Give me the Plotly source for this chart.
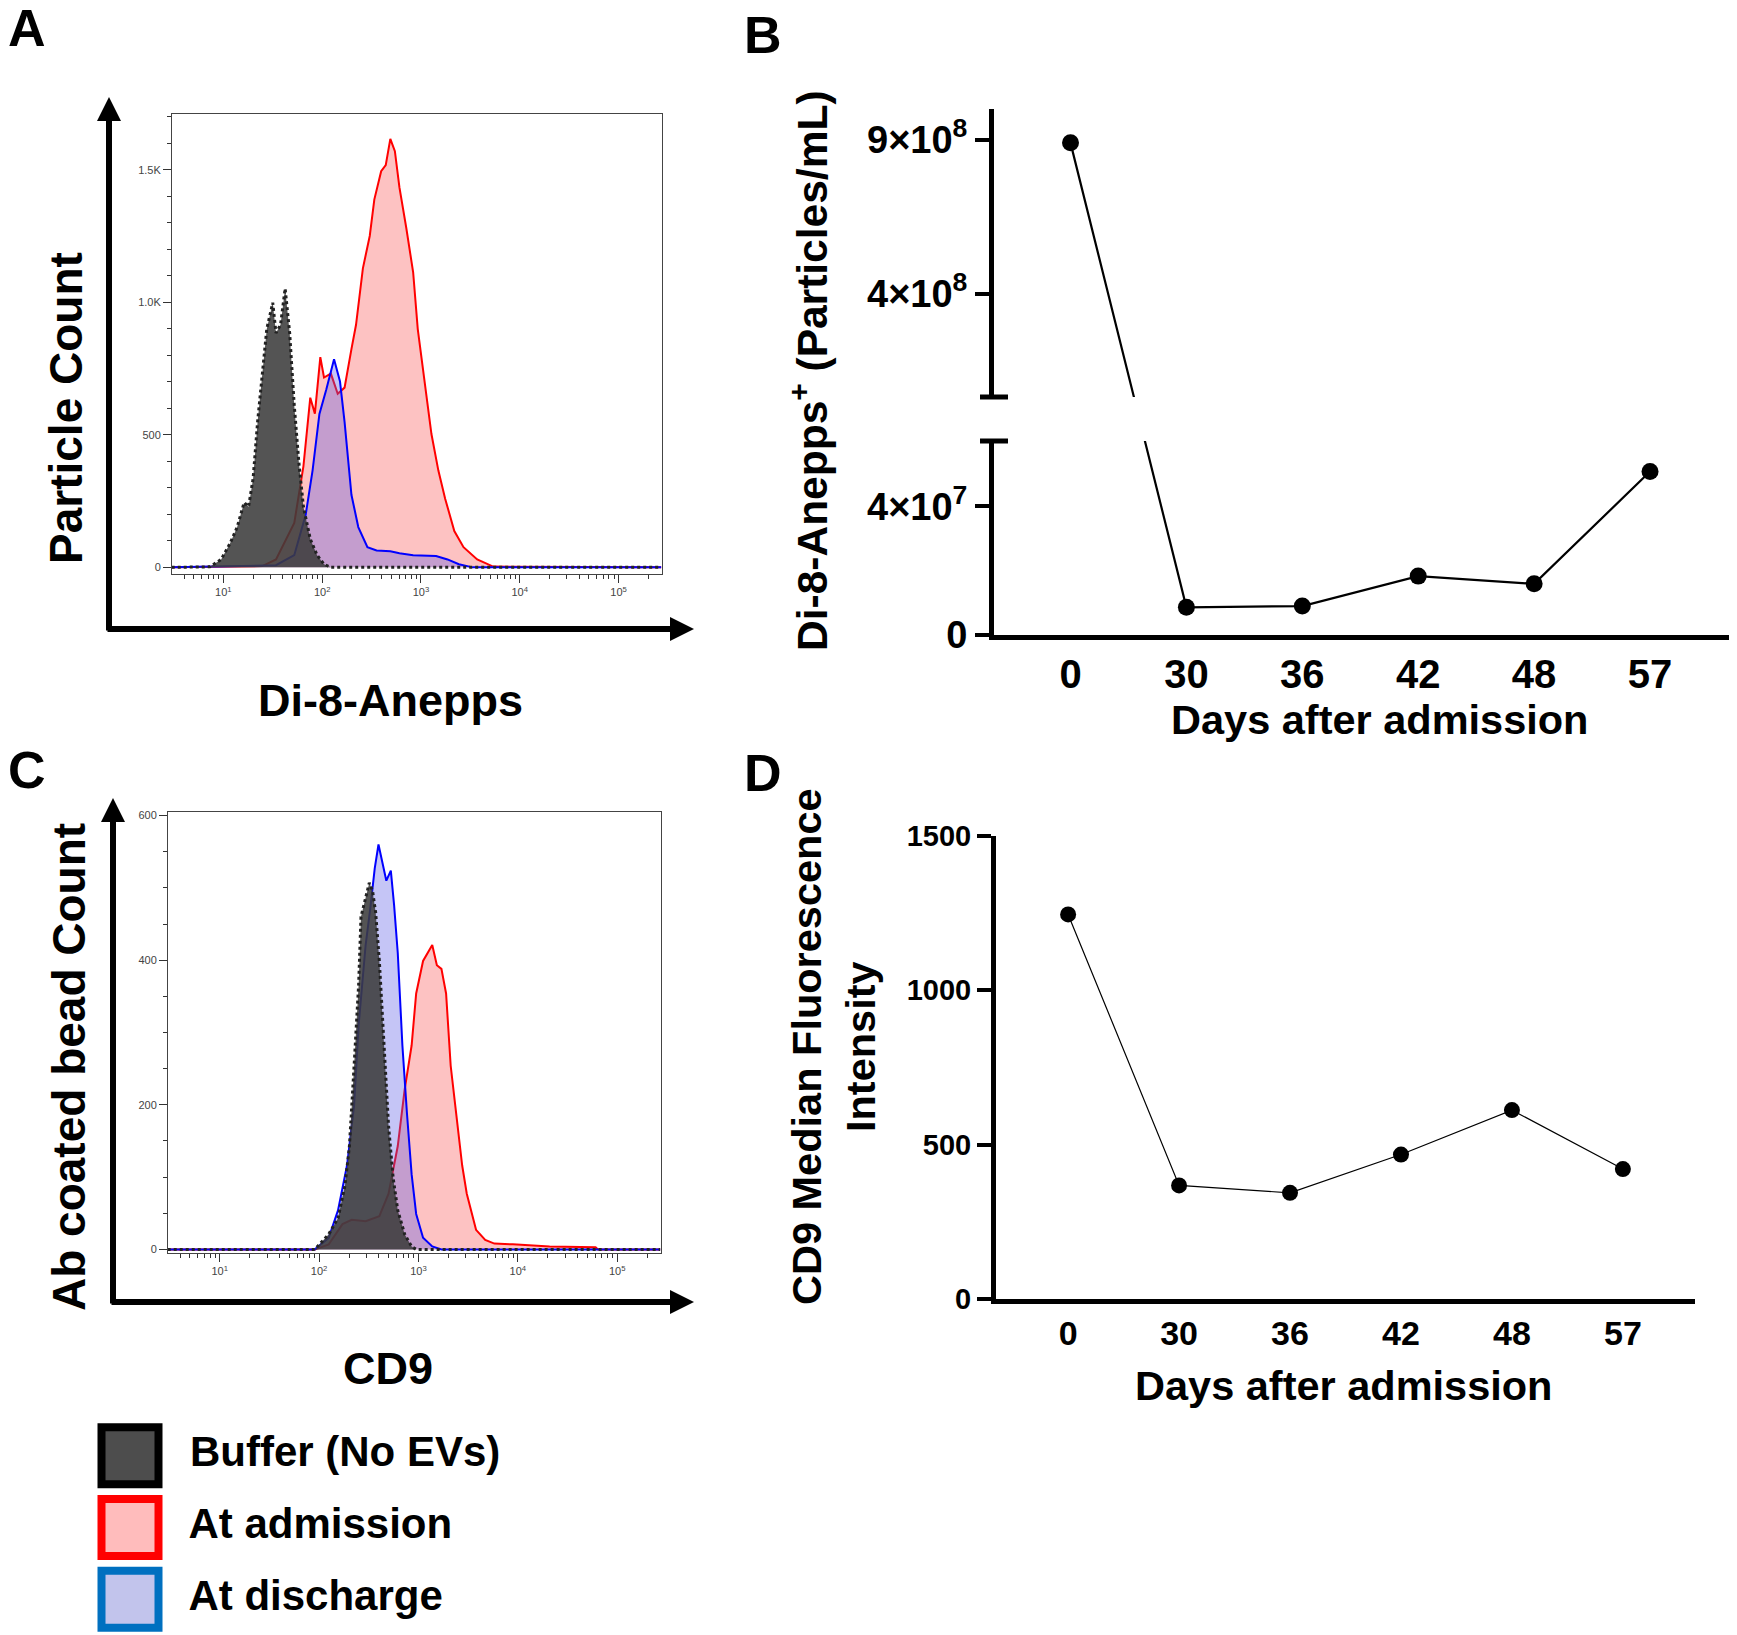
import plotly.graph_objects as go

W, H = 1737, 1635
OFF = 8  # page body margin offset compensation (px)

# ---------------- data ----------------
# Panel A: Di-8-Anepps histograms (fluorescence, particle count)
a_buffer_x = [3, 7.3, 9.5, 11.7, 13.8, 16.2, 18.0, 20.0, 22.2, 24.8, 27.5, 31.6, 34.1, 37.9, 42.2, 46.9,
              52.2, 58.1, 64.6, 75.8, 88.9, 104.4, 122.5, 270000]
a_buffer_y = [0, 2, 30, 91, 152, 244, 229, 335, 549, 732, 899, 998, 884, 915, 1052, 884,
              610, 396, 229, 107, 46, 12, 0, 0]
a_adm_x = [3, 24.8, 34.1, 52.2, 64.6, 75.8, 84.4, 95.8, 104.4, 122.5, 143.7, 168.6, 197.8, 220.2, 258.4,
           303.1, 337.2, 395.6, 440.2, 489.8, 544.6, 605.6, 710.6, 833.7, 928.4, 1089, 1277, 1499, 1758,
           2176, 2697, 3709, 5383, 270000]
a_adm_y = [0, 5, 30, 168, 381, 640, 580, 793, 716, 731, 655, 678, 823, 915, 1128,
           1250, 1387, 1494, 1517, 1616, 1570, 1433, 1280, 1113, 899, 701, 503, 366, 259,
           137, 76, 30, 3, 0]
a_dis_x = [3, 34.1, 52.2, 68.1, 80.0, 93.8, 110.1, 131.9, 151.6, 168.6, 197.8, 232.1, 287.2, 355.5,
           489.8, 605.6, 833.7, 1422, 1857, 2421, 3334, 270000]
a_dis_y = [0, 8, 46, 198, 366, 579, 671, 785, 701, 549, 274, 152, 76, 64,
           61, 53, 46, 43, 30, 12, 0, 0]

# Panel C: CD9 histograms (fluorescence, bead count)
c_buffer_x = [3, 90.8, 125, 155, 182, 202, 225, 250, 264, 294, 320, 345, 371, 404, 449, 500, 556, 619,
              726, 853, 948, 270000]
c_buffer_y = [0, 0, 21, 43, 88, 143, 254, 366, 460, 488, 507, 496, 466, 399, 282, 171, 99, 54,
              21, 4, 0, 0]
c_adm_x = [3, 90.8, 125, 172, 213, 294, 404, 500, 619, 726, 853, 948, 1112, 1239, 1376, 1531, 1702,
           1896, 2109, 2345, 2753, 3062, 3795, 4693, 5804, 8892, 20850, 60530, 63970, 270000]
c_adm_y = [0, 0, 7, 35, 41, 39, 46, 77, 143, 221, 282, 354, 399, 410, 421, 393, 388,
           354, 254, 199, 116, 77, 27, 13, 8, 7, 4, 3, 0, 0]
c_dis_x = [3, 90.8, 125, 155, 191, 225, 250, 294, 327, 363, 396, 426, 475, 527, 568, 619, 689, 766,
           853, 948, 1112, 1376, 1702, 270000]
c_dis_y = [0, 0, 16, 54, 116, 199, 310, 421, 471, 527, 560, 538, 510, 524, 477, 410, 282, 188,
           104, 49, 16, 4, 0, 0]

# Panels B and D
days = ["0", "30", "36", "42", "48", "57"]
b_particles = [8.9e8, 8.6e6, 9.0e6, 1.83e7, 1.59e7, 5.08e7]
d_mfi = [1246, 368, 344, 468, 612, 421]

log_ticks = [10, 100, 1000, 10000, 100000]
log_ticktext = ["10<sup>1</sup>", "10<sup>2</sup>", "10<sup>3</sup>", "10<sup>4</sup>", "10<sup>5</sup>"]
a_yticks = [0, 500, 1000, 1500]
a_yticktext = ["0", "500", "1.0K", "1.5K"]
c_yticks = [0, 200, 400, 600]
b_low_ticks = [0, 4e7]
b_low_text = ["0", "4×10<sup>7</sup>"]
b_up_ticks = [4e8, 9e8]
b_up_text = ["4×10<sup>8</sup>", "9×10<sup>8</sup>"]
d_yticks = [0, 500, 1000, 1500]

legend_labels = ["Buffer (No EVs)", "At admission", "At discharge"]
legend_fill = ["#4d4d4d", "#ffbcbc", "#c2c4ec"]
legend_edge = ["#000000", "#ff0000", "#0070c0"]

# ---------------- helpers (layout geometry) ----------------
def xd(p0, p1):
    return [(p0 - OFF) / W, (p1 - OFF) / W]

def yd(top, bot):
    return [1 - (bot - OFF) / H, 1 - (top - OFF) / H]

FONT = "Liberation Sans, Arial, sans-serif"

# broken axis for panel B
B_LOW = yd(441, 635)
B_UP = yd(109, 397)
LOW_MAX = 6.03e7
UP_MIN, UP_MAX = 6.43e7, 1.0e9
h_low = B_LOW[1] - B_LOW[0]
D_lo = LOW_MAX * (B_UP[0] - B_LOW[0]) / h_low
D_hi = LOW_MAX * (B_UP[1] - B_LOW[0]) / h_low

def to_display(v):
    if v <= LOW_MAX:
        return v
    return D_lo + (v - UP_MIN) * (D_hi - D_lo) / (UP_MAX - UP_MIN)

b_disp = [to_display(v) for v in b_particles]

fig = go.Figure()

RED_FILL = "rgba(250,120,120,0.45)"
BLUE_FILL = "rgba(90,90,230,0.35)"
GRAY_FILL = "rgba(60,60,60,0.88)"

def hist_traces(xa, ya, xs_adm, ys_adm, xs_dis, ys_dis, xs_buf, ys_buf):
    fig.add_trace(go.Scatter(x=xs_adm, y=ys_adm, mode="lines", fill="tozeroy", fillcolor=RED_FILL,
                             line=dict(color="#ff0000", width=2), xaxis=xa, yaxis=ya, showlegend=False))
    fig.add_trace(go.Scatter(x=xs_dis, y=ys_dis, mode="lines", fill="tozeroy", fillcolor=BLUE_FILL,
                             line=dict(color="#0000ff", width=2), xaxis=xa, yaxis=ya, showlegend=False))
    fig.add_trace(go.Scatter(x=xs_buf, y=ys_buf, mode="lines", fill="tozeroy", fillcolor=GRAY_FILL,
                             line=dict(color="#222222", width=3, dash="dot"), xaxis=xa, yaxis=ya,
                             showlegend=False))

hist_traces("x", "y", a_adm_x, a_adm_y, a_dis_x, a_dis_y, a_buffer_x, a_buffer_y)
hist_traces("x2", "y2", c_adm_x, c_adm_y, c_dis_x, c_dis_y, c_buffer_x, c_buffer_y)

# Panel B (lower and upper segments)
for xa, ya in (("x3", "y3"), ("x4", "y4")):
    fig.add_trace(go.Scatter(x=days, y=b_disp, mode="lines+markers",
                             line=dict(color="black", width=2.2),
                             marker=dict(color="black", size=17),
                             xaxis=xa, yaxis=ya, showlegend=False))

# Panel D
fig.add_trace(go.Scatter(x=days, y=d_mfi, mode="lines+markers",
                         line=dict(color="black", width=1.2),
                         marker=dict(color="black", size=16),
                         xaxis="x5", yaxis="y5", showlegend=False))

# Legend panel
fig.add_trace(go.Scatter(x=[0] * len(legend_labels), y=legend_labels, mode="markers+text",
                         text=["  " + t for t in legend_labels], textposition="middle right",
                         textfont=dict(family=FONT, size=42, color="black", weight="bold"),
                         marker=dict(symbol="square", size=57, color=legend_fill,
                                     line=dict(color=legend_edge, width=8)),
                         xaxis="x6", yaxis="y6", showlegend=False, cliponaxis=False))

minor_log = [m * 10 ** e for e in range(0, 6) for m in range(2, 10)]

def hist_xaxis(domain, anchor):
    return dict(domain=domain, anchor=anchor, type="log", range=[0.48, 5.44],
                showline=True, mirror=True, linecolor="#444", linewidth=1,
                ticks="outside", ticklen=8, tickwidth=1, tickcolor="#333",
                tickmode="array", tickvals=log_ticks, ticktext=log_ticktext,
                tickfont=dict(family=FONT, size=11, color="#444"),
                minor=dict(ticks="outside", ticklen=4, tickwidth=1, tickcolor="#333",
                           tickmode="array", tickvals=minor_log, showgrid=False),
                showgrid=False, zeroline=False, automargin=False)

def hist_yaxis(domain, anchor, rng, tv, tt, minor_dt):
    return dict(domain=domain, anchor=anchor, range=rng,
                showline=True, mirror=True, linecolor="#444", linewidth=1,
                ticks="outside", ticklen=8, tickwidth=1, tickcolor="#333",
                tickmode="array", tickvals=tv, ticktext=tt,
                tickfont=dict(family=FONT, size=11, color="#444"),
                minor=dict(ticks="outside", ticklen=4, tickwidth=1, tickcolor="#333",
                           dtick=minor_dt, showgrid=False),
                showgrid=False, zeroline=False, automargin=False)

B_X = xd(994, 1730)
D_X = xd(996, 1695)

bold_ticks_b = dict(family=FONT, size=40, color="black", weight="bold")
bold_ticks_by = dict(family=FONT, size=38, color="black", weight="bold")
bold_ticks_dx = dict(family=FONT, size=34, color="black", weight="bold")
bold_ticks_dy = dict(family=FONT, size=29, color="black", weight="bold")

fig.update_layout(
    width=W, height=H, margin=dict(l=0, r=0, t=0, b=0, pad=0, autoexpand=False),
    paper_bgcolor="white", plot_bgcolor="rgba(0,0,0,0)",
    xaxis=hist_xaxis(xd(172, 662), "y"),
    yaxis=hist_yaxis(yd(114, 574), "x", [-25, 1710], a_yticks, a_yticktext, 100),
    xaxis2=hist_xaxis(xd(168, 661), "y2"),
    yaxis2=hist_yaxis(yd(812, 1253), "x2", [-5, 605], c_yticks, [str(v) for v in c_yticks], 50),
    xaxis3=dict(domain=B_X, anchor="y3", type="category", categoryorder="array", categoryarray=days,
                range=[-0.66, 5.69], showline=True, linecolor="black", linewidth=5, ticks="",
                tickfont=bold_ticks_b, showgrid=False, zeroline=False, automargin=False),
    yaxis3=dict(domain=B_LOW, anchor="x3", range=[0, LOW_MAX], showline=True, linecolor="black",
                linewidth=5, ticks="outside", ticklen=14, tickwidth=4, tickcolor="black",
                tickmode="array", tickvals=b_low_ticks, ticktext=b_low_text,
                tickfont=bold_ticks_by, showgrid=False, zeroline=False, automargin=False),
    xaxis4=dict(domain=B_X, anchor="y4", type="category", categoryorder="array", categoryarray=days,
                range=[-0.66, 5.69], visible=False),
    yaxis4=dict(domain=B_UP, anchor="x4", range=[D_lo, D_hi], showline=True, linecolor="black",
                linewidth=5, ticks="outside", ticklen=14, tickwidth=4, tickcolor="black",
                tickmode="array", tickvals=[to_display(v) for v in b_up_ticks], ticktext=b_up_text,
                tickfont=bold_ticks_by, showgrid=False, zeroline=False, automargin=False),
    xaxis5=dict(domain=D_X, anchor="y5", type="category", categoryorder="array", categoryarray=days,
                range=[-0.65, 5.65], showline=True, linecolor="black", linewidth=5, ticks="",
                tickfont=bold_ticks_dx, showgrid=False, zeroline=False, automargin=False),
    yaxis5=dict(domain=yd(836, 1299), anchor="x5", range=[0, 1500], showline=True, linecolor="black",
                linewidth=5, ticks="outside", ticklen=14, tickwidth=4, tickcolor="black",
                tickmode="array", tickvals=d_yticks, tickfont=bold_ticks_dy,
                showgrid=False, zeroline=False, automargin=False),
    xaxis6=dict(domain=xd(90, 600), anchor="y6", range=[-1, 11.75], visible=False),
    yaxis6=dict(domain=yd(1420, 1635), anchor="x6", type="category", categoryorder="array",
                categoryarray=legend_labels, range=[2.5, -0.5], visible=False),
)

# break caps on panel B y axis
fig.add_shape(type="line", xref="x4 domain", yref="y4 domain", x0=-0.019, x1=0.019, y0=0, y1=0,
              line=dict(color="black", width=5))
fig.add_shape(type="line", xref="x3 domain", yref="y3 domain", x0=-0.019, x1=0.019, y0=1, y1=1,
              line=dict(color="black", width=5))

ann = []

def label(text, px, py, size, angle=0):
    ann.append(dict(text=text, x=(px - OFF) / W, y=1 - (py - OFF) / H, xref="paper", yref="paper",
                    xanchor="center", yanchor="middle", showarrow=False, textangle=angle,
                    font=dict(family=FONT, size=size, color="black")))

# panel letters
label("<b>A</b>", 27, 28, 52)
label("<b>B</b>", 763, 35, 52)
label("<b>C</b>", 27, 770, 52)
label("<b>D</b>", 763, 773, 52)

# axis titles
label("<b>Particle Count</b>", 66, 408, 46, -90)
label("<b>Di-8-Anepps</b>", 390, 700, 45)
label("<b>Ab coated bead Count</b>", 69, 1067, 46, -90)
label("<b>CD9</b>", 388, 1368, 45)
label("<b>Di-8-Anepps<sup>+</sup> (Particles/mL)</b>", 809, 371, 42.5, -90)
label("<b>Days after admission</b>", 1379, 719, 41.5)
label("<b>CD9 Median Fluorescence<br>Intensity</b>", 833, 1047, 41.5, -90)
label("<b>Days after admission</b>", 1343, 1385, 41.5)

# axis arrows for the histogram panels
def arrow(tip_x, tip_y, ax, ay):
    ann.append(dict(x=(tip_x - OFF) / W, y=1 - (tip_y - OFF) / H, xref="paper", yref="paper", text="",
                    showarrow=True, axref="pixel", ayref="pixel", ax=ax, ay=ay,
                    arrowhead=2, arrowsize=0.8, arrowwidth=6, arrowcolor="black"))

arrow(109, 97, 0, 535)
arrow(694, 629, -588, 0)
arrow(113, 798, 0, 507)
arrow(694, 1302, -584, 0)

fig.update_layout(annotations=ann)

fig.write_html("out.html")
